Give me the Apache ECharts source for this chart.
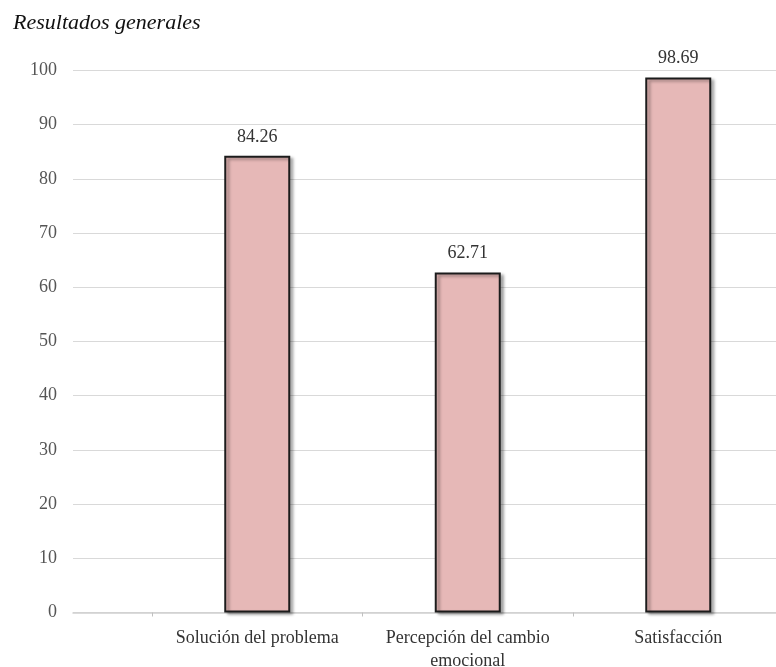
<!DOCTYPE html>
<html>
<head>
<meta charset="utf-8">
<script src="https://cdn.jsdelivr.net/npm/echarts@6/dist/echarts.min.js"></script>
<style>
html,body{margin:0;padding:0;background:#fff;}
#chart{width:776px;height:667px;}
</style>
</head>
<body>
<div id="chart"></div>
<script>
const titleText = 'Resultados generales';
const categories = ['Solución del problema', 'Percepción del cambio\nemocional', 'Satisfacción'];
const values = [84.26, 62.71, 98.69];
const yTicks = [0, 10, 20, 30, 40, 50, 60, 70, 80, 90, 100];

const serif = '"Liberation Serif", "Times New Roman", serif';
const chart = echarts.init(document.getElementById('chart'), null, {renderer: 'canvas'});
chart.setOption({
  backgroundColor: '#ffffff',
  animation: false,
  title: {
    text: titleText,
    left: 8, top: 7,
    textStyle: {fontFamily: serif, fontStyle: 'italic', fontWeight: 'normal', fontSize: 22, color: '#111'}
  },
  grid: [
    {left: 73, right: 0, top: 70.5, bottom: 54.5, outerBoundsMode: 'none', containLabel: false},
    {left: 152, width: 631.5, top: 70.5, bottom: 54.5, outerBoundsMode: 'none', containLabel: false}
  ],
  xAxis: [
    {gridIndex: 0, type: 'category', data: [''],
     axisLine: {show: true, lineStyle: {color: '#d0d0d0', width: 1.5}},
     axisTick: {show: false}, axisLabel: {show: false}},
    {gridIndex: 1, type: 'category', data: categories,
     axisLine: {show: false},
     axisTick: {show: true, length: 4, lineStyle: {color: '#c0c0c0'}},
     axisLabel: {fontFamily: serif, fontSize: 18, color: '#333', margin: 14, lineHeight: 23, interval: 0}}
  ],
  yAxis: [
    {gridIndex: 0, type: 'value', min: yTicks[0], max: yTicks[yTicks.length - 1], interval: 10,
     axisLine: {show: false}, axisTick: {show: false},
     axisLabel: {fontFamily: serif, fontSize: 18, color: '#555', margin: 16},
     splitLine: {lineStyle: {color: '#d9d9d9', width: 1.2}}},
    {gridIndex: 1, type: 'value', min: 0, max: 100, interval: 10, show: false,
     splitLine: {show: false}}
  ],
  series: [{
    type: 'bar',
    xAxisIndex: 1, yAxisIndex: 1,
    data: values,
    barWidth: 66,
    itemStyle: {
      color: '#e6b8b7', borderColor: '#1c1c1c', borderWidth: 2,
      shadowColor: 'rgba(0,0,0,0.35)', shadowBlur: 3, shadowOffsetX: 3, shadowOffsetY: 2
    },
    label: {
      show: true, position: 'top', distance: 10,
      fontFamily: serif, fontSize: 18, color: '#333',
      formatter: p => p.value.toFixed(2)
    }
  }]
});
</script>
</body>
</html>
